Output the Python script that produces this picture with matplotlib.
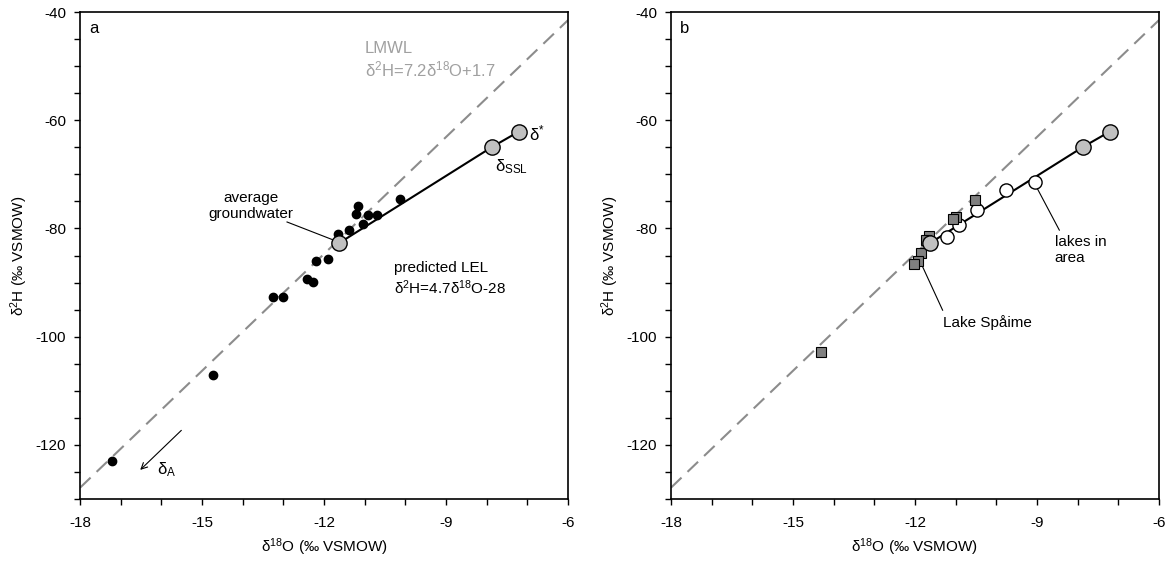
import numpy as np
import matplotlib
matplotlib.use("Agg")
from matplotlib import pyplot as plt
from matplotlib.ticker import MultipleLocator

plt.rcParams['font.family'] = ['Liberation Sans', 'DejaVu Sans']
plt.rcParams['font.size'] = 11
plt.rcParams['axes.unicode_minus'] = False
plt.rcParams['mathtext.fontset'] = 'custom'
plt.rcParams['mathtext.rm'] = 'Liberation Sans'
plt.rcParams['mathtext.it'] = 'Liberation Sans:italic'

# ======================================== DATOS ========================================

# LMWL: d2H = 7.2 d18O + 1.7
lmwl_slope, lmwl_icpt = 7.2, 1.7
lmwl_x = [-18, -6]

# agua subterranea (panel a)
gw_d18O = [-10.13, -11.17, -11.21, -10.91, -10.70, -11.05, -11.65, -11.38,
           -11.91, -12.20, -12.43, -12.28, -13.02, -13.25, -14.72, -17.22]
gw_d2H = [-74.6, -75.9, -77.3, -77.5, -77.5, -79.1, -81.0, -80.3,
          -85.7, -86.1, -89.4, -89.9, -92.6, -92.7, -107.1, -122.9]

# puntos de la LEL: media agua subterranea, delta_SSL, delta*
lel_d18O = [-11.63, -7.86, -7.21]
lel_d2H = [-82.7, -64.9, -62.1]

# lagos del area (panel b)
lakes_d18O = [-9.05, -9.75, -10.48, -10.91, -11.20]
lakes_d2H = [-71.5, -72.8, -76.5, -79.4, -81.6]

# lago Spaime (panel b)
spaime_d18O = [-10.53, -10.98, -11.07, -11.65, -11.73, -11.85, -11.92, -12.02, -14.30]
spaime_d2H = [-74.8, -77.8, -78.3, -81.4, -82.1, -84.5, -86.0, -86.5, -102.8]

# ======================================== FIGURA ========================================

fig, axs = plt.subplots(1, 2, figsize=(11.67, 5.62), dpi=100)
fig.subplots_adjust(left=0.0686, right=0.9931, bottom=0.112, top=0.9786, wspace=0.211)

lmwl_y = [lmwl_slope * v + lmwl_icpt for v in lmwl_x]

for ax in axs:
    ax.plot(lmwl_x, lmwl_y, color="#8c8c8c", lw=1.5, dashes=(7, 4), zorder=1)
    ax.plot(lel_d18O, lel_d2H, color="black", lw=1.5, zorder=2)

    ax.set_xlim(-18, -6)
    ax.set_ylim(-130, -40)
    ax.xaxis.set_major_locator(MultipleLocator(3))
    ax.xaxis.set_minor_locator(MultipleLocator(1))
    ax.yaxis.set_major_locator(MultipleLocator(20))
    ax.yaxis.set_minor_locator(MultipleLocator(5))
    ax.tick_params(which="both", direction="out", length=4, width=1.0,
                   top=False, right=False, labelsize=11)
    ax.tick_params(axis="x", pad=8)
    ax.tick_params(axis="y", pad=6)
    for sp in ax.spines.values():
        sp.set_linewidth(1.2)
    ax.set_xlabel(r"$\mathregular{\delta^{18}}$O (‰ VSMOW)", fontsize=11, labelpad=5)
    ax.set_ylabel(r"$\mathregular{\delta^{2}}$H (‰ VSMOW)", fontsize=11, labelpad=4)

# ------------------------------------ panel a ------------------------------------
ax = axs[0]
ax.plot(gw_d18O, gw_d2H, "o", color="black", ms=6, zorder=3)
ax.plot(lel_d18O, lel_d2H, "o", mfc="#c0c0c0", mec="black", mew=1.0, ms=11, zorder=4)

ax.text(-17.78, -43.9, "a", fontsize=12)
ax.text(-10.99, -45.3, "LMWL\n" + r"$\mathregular{\delta^{2}}$H=7.2$\mathregular{\delta^{18}}$O+1.7",
        color="#a0a0a0", fontsize=12, va="top", linespacing=1.2)
ax.text(-6.95, -64.3, r"$\mathregular{\delta^{*}}$", fontsize=12, va="bottom")
ax.text(-7.8, -66.9, r"$\mathregular{\delta_{SSL}}$", fontsize=12, va="top")
ax.text(-13.8, -75.8, "average\ngroundwater", fontsize=11, ha="center", va="center")
ax.plot([-12.91, -11.78], [-78.8, -82.1], color="black", lw=0.8, zorder=2)
ax.text(-10.27, -86.0, "predicted LEL\n" + r"$\mathregular{\delta^{2}}$H=4.7$\mathregular{\delta^{18}}$O-28",
        fontsize=11, va="top", linespacing=1.25)
ax.annotate("", xy=(-16.57, -124.97), xytext=(-15.46, -116.95),
            arrowprops=dict(arrowstyle="->", color="black", lw=0.8))
ax.text(-16.11, -122.8, r"$\mathregular{\delta_{A}}$", fontsize=12, va="top")

# ------------------------------------ panel b ------------------------------------
ax = axs[1]
ax.plot(lakes_d18O, lakes_d2H, "o", mfc="white", mec="black", mew=1.0, ms=9.5, zorder=3)
ax.plot(spaime_d18O, spaime_d2H, "s", mfc="#808080", mec="black", mew=0.8, ms=7, zorder=4)
ax.plot(lel_d18O, lel_d2H, "o", mfc="#c0c0c0", mec="black", mew=1.0, ms=11, zorder=5)

ax.text(-17.78, -43.9, "b", fontsize=12)
ax.plot([-9.0, -8.45], [-72.5, -80.3], color="black", lw=0.8, zorder=2)
ax.text(-8.56, -81.2, "lakes in\narea", fontsize=11, va="top", linespacing=1.2)
ax.plot([-11.81, -11.32], [-87.1, -95.1], color="black", lw=0.8, zorder=2)
ax.text(-11.31, -96.0, "Lake Spåime", fontsize=11, va="top")

plt.savefig("out.png", dpi=100)
